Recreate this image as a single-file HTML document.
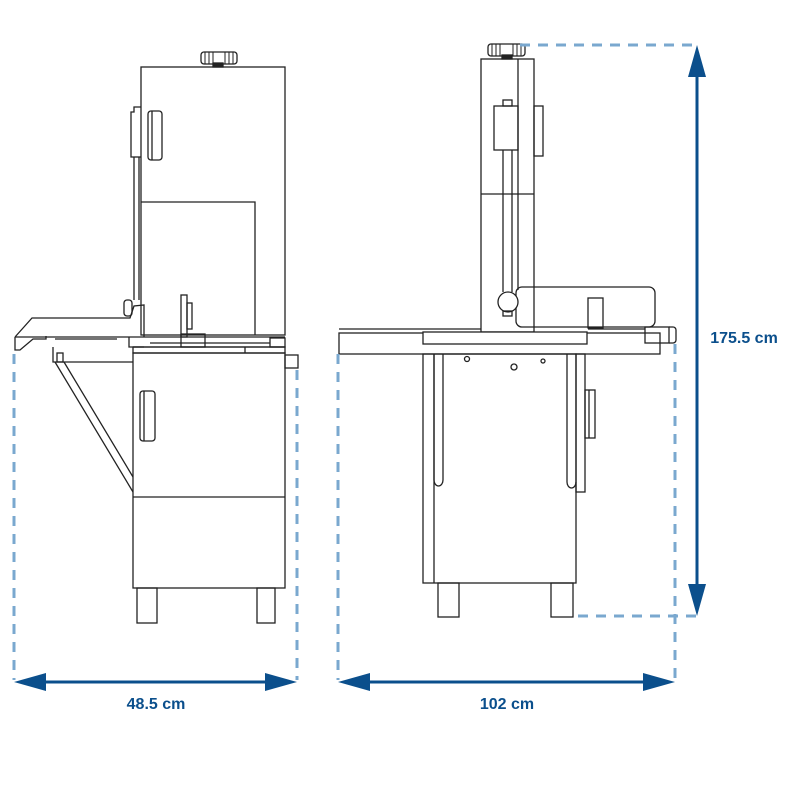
<!DOCTYPE html>
<html><head><meta charset="utf-8"><style>
html,body{margin:0;padding:0;background:#fff}
svg{display:block}
text{font-family:"Liberation Sans",sans-serif;font-weight:bold;fill:#0b4f8c;font-size:16px}
</style></head><body>
<svg width="800" height="800" viewBox="0 0 800 800" xmlns="http://www.w3.org/2000/svg">
<g fill="none" stroke="#222" stroke-width="1.3">
<!-- LEFT MACHINE -->
<rect x="201" y="52" width="36" height="12" rx="3"/>
<g stroke-width="1"><line x1="205" y1="52" x2="205" y2="64"/><line x1="209" y1="52" x2="209" y2="64"/><line x1="213" y1="52" x2="213" y2="64"/><line x1="225" y1="52" x2="225" y2="64"/><line x1="229" y1="52" x2="229" y2="64"/><line x1="233" y1="52" x2="233" y2="64"/></g>
<rect x="213" y="63" width="10" height="4" fill="#222"/>
<rect x="141" y="67" width="144" height="268"/>
<polyline points="141,202 255,202 255,335"/>
<rect x="148" y="111" width="14" height="49" rx="3"/>
<line x1="152" y1="111" x2="152" y2="160"/>
<polyline points="134,157 131,157 131,112 134,112 134,107 141,107"/>
<line x1="134" y1="157" x2="141" y2="157"/>
<line x1="134" y1="157" x2="134" y2="300"/><line x1="139" y1="157" x2="139" y2="300"/>
<rect x="124" y="300" width="8" height="16" rx="3"/>
<polyline points="15,337 32,318 130,318 134,306 144,305 144,337"/>
<polyline points="15,337 15,350 20,350 33,339 46,339 46,336"/>
<line x1="15" y1="337" x2="144" y2="337"/>
<line x1="55" y1="339" x2="117" y2="339"/>
<polyline points="129,337 129,347 144,347"/>
<rect x="181" y="295" width="6" height="42"/>
<rect x="187" y="303" width="5" height="26"/>
<rect x="181" y="334" width="24" height="13"/>
<line x1="144" y1="337" x2="285" y2="337"/>
<line x1="150" y1="343" x2="270" y2="343"/>
<line x1="133" y1="347" x2="285" y2="347"/>
<rect x="133" y="347" width="152" height="6"/>
<line x1="245" y1="347" x2="245" y2="353"/>
<rect x="270" y="338" width="15" height="9"/>
<rect x="133" y="353" width="152" height="235"/>
<line x1="133" y1="497" x2="285" y2="497"/>
<rect x="140" y="391" width="15" height="50" rx="3"/>
<line x1="144" y1="391" x2="144" y2="441"/>
<polyline points="53,347 53,362 133,362"/>
<rect x="57" y="353" width="6" height="9"/>
<line x1="55" y1="362" x2="133" y2="492"/>
<line x1="64" y1="362" x2="133" y2="477"/>
<rect x="285" y="355" width="13" height="13"/>
<rect x="137" y="588" width="20" height="35"/>
<rect x="257" y="588" width="18" height="35"/>

<!-- RIGHT MACHINE -->
<rect x="488" y="44" width="37" height="12" rx="3"/>
<g stroke-width="1"><line x1="492" y1="44" x2="492" y2="56"/><line x1="496" y1="44" x2="496" y2="56"/><line x1="500" y1="44" x2="500" y2="56"/><line x1="513" y1="44" x2="513" y2="56"/><line x1="517" y1="44" x2="517" y2="56"/><line x1="521" y1="44" x2="521" y2="56"/></g>
<rect x="502" y="55" width="10" height="4" fill="#222"/>
<rect x="481" y="59" width="53" height="273"/>
<line x1="518" y1="59" x2="518" y2="290"/>
<line x1="481" y1="194" x2="534" y2="194"/>
<rect x="503" y="100" width="9" height="6"/>
<rect x="494" y="106" width="24" height="44"/>
<line x1="503" y1="150" x2="503" y2="292"/><line x1="512" y1="150" x2="512" y2="292"/>
<rect x="534" y="106" width="9" height="50"/>
<rect x="516" y="287" width="139" height="40" rx="6"/>
<circle cx="508" cy="302" r="10" fill="#fff"/>
<rect x="503" y="311" width="9" height="5"/>
<rect x="588" y="298" width="15" height="30"/>
<rect x="339" y="333" width="321" height="21"/>
<line x1="339" y1="329" x2="481" y2="329"/>
<rect x="423" y="332" width="164" height="12" fill="#fff"/>
<line x1="588" y1="329" x2="645" y2="329"/>
<rect x="645" y="327" width="24" height="16"/>
<path d="M669,327 h4 a3,3 0 0 1 3,3 v10 a3,3 0 0 1 -3,3 h-4"/>
<rect x="423" y="354" width="153" height="229"/>
<line x1="434" y1="354" x2="434" y2="583"/>
<path d="M434,354 V480 a4.5,6 0 0 0 9,0 V354"/>
<path d="M567,354 V482 a4.5,6 0 0 0 9,0"/>
<rect x="576" y="354" width="9" height="138"/>
<rect x="585" y="390" width="10" height="48"/>
<line x1="589" y1="390" x2="589" y2="438"/>
<circle cx="467" cy="359" r="2.5"/><circle cx="514" cy="367" r="3"/><circle cx="543" cy="361" r="2"/>
<rect x="438" y="583" width="21" height="34"/>
<rect x="551" y="583" width="22" height="34"/>
</g>

<!-- DASHED -->
<g stroke="#7aa8cf" stroke-width="3" stroke-dasharray="10,8" fill="none">
<line x1="14" y1="354" x2="14" y2="680"/>
<line x1="297" y1="370" x2="297" y2="680"/>
<line x1="338" y1="354" x2="338" y2="680"/>
<line x1="675" y1="344" x2="675" y2="680"/>
<line x1="520" y1="45" x2="697" y2="45"/>
<line x1="578" y1="616" x2="697" y2="616"/>
</g>

<!-- ARROWS -->
<g stroke="#0b4f8c" stroke-width="3" fill="#0b4f8c">
<line x1="30" y1="682" x2="282" y2="682"/>
<polygon points="14,682 46,673 46,691" stroke="none"/>
<polygon points="297,682 265,673 265,691" stroke="none"/>
<line x1="354" y1="682" x2="660" y2="682"/>
<polygon points="338,682 370,673 370,691" stroke="none"/>
<polygon points="675,682 643,673 643,691" stroke="none"/>
<line x1="697" y1="60" x2="697" y2="600"/>
<polygon points="697,45 688,77 706,77" stroke="none"/>
<polygon points="697,616 688,584 706,584" stroke="none"/>
</g>
<text x="156" y="709" text-anchor="middle">48.5 cm</text>
<text x="507" y="709" text-anchor="middle">102 cm</text>
<text x="744" y="343" text-anchor="middle">175.5 cm</text>
</svg>
</body></html>
